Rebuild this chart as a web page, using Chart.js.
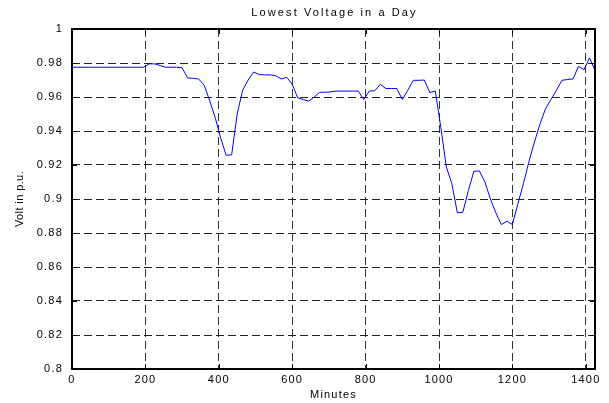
<!DOCTYPE html>
<html>
<head>
<meta charset="utf-8">
<script src="https://cdn.jsdelivr.net/npm/chart.js@4/dist/chart.umd.min.js"></script>
<style>
  body { margin: 0; background: #fff; }
  canvas { display: block; }
</style>
</head>
<body>
<canvas id="voltChart" width="609" height="403"></canvas>
<script>
// minutes of the day, one reading every 15 min
const minutes = [
  0, 15, 30, 45, 60, 75, 90, 105, 120, 135, 150, 165, 180, 195,
  210, 225, 240, 255, 270, 285, 300, 315, 330, 345, 360, 375, 390, 405,
  420, 435, 450, 465, 480, 495, 510, 525, 540, 555, 570, 585, 600, 615,
  630, 645, 660, 675, 690, 705, 720, 735, 750, 765, 780, 795, 810, 825,
  840, 855, 870, 885, 900, 915, 930, 945, 960, 975, 990, 1005, 1020, 1035,
  1050, 1065, 1080, 1095, 1110, 1125, 1140, 1155, 1170, 1185, 1200, 1215,
  1230, 1245, 1260, 1275, 1290, 1305, 1320, 1335, 1350, 1365, 1380, 1395,
  1410, 1425
];

// lowest voltage (p.u.)
const voltage = [
  0.9775, 0.9775, 0.9775, 0.9775, 0.9775, 0.9775, 0.9775, 0.9775, 0.9775, 0.9775, 0.9775, 0.9775, 0.9775, 0.9775,
  0.9795, 0.9795, 0.9785, 0.9775, 0.9775, 0.9775, 0.9772, 0.9712, 0.9710, 0.9706, 0.967, 0.958, 0.948, 0.936,
  0.9257, 0.926, 0.950, 0.964, 0.970, 0.9747, 0.9732, 0.9730, 0.9730, 0.9725, 0.9706, 0.9716, 0.9675, 0.9595,
  0.9585, 0.9576, 0.960, 0.9628, 0.9628, 0.963, 0.9635, 0.9635, 0.9635, 0.9635, 0.9635, 0.9585, 0.9635, 0.9637,
  0.9675, 0.965, 0.965, 0.965, 0.9585, 0.964, 0.9698, 0.9698, 0.970, 0.9626, 0.9635, 0.942, 0.9188, 0.909,
  0.8918, 0.8922, 0.905, 0.9163, 0.9165, 0.910, 0.900, 0.8918, 0.885, 0.8869, 0.885, 0.8973,
  0.909, 0.922, 0.9335, 0.944, 0.953, 0.9585, 0.964, 0.9698, 0.9703, 0.9706, 0.978, 0.9761,
  0.983, 0.9757
];

const xTicks = [0, 200, 400, 600, 800, 1000, 1200, 1400];
const xRange = [0, 1425];
const yRange = [0.8, 1];
const yStep = 0.02;

const chartTitle = "Lowest Voltage in a Day";
const yTitle = "Volt in p.u.";

const fontFamily = "'Liberation Sans', Arial, sans-serif";
const font = { family: fontFamily, size: 11 };
const dash = [8, 4];

// matlab style box, inward ticks, title centred over the plot
const boxPlugin = {
  id: "box",
  beforeDraw(chart) {
    chart.ctx.letterSpacing = "1.2px";
  },
  afterDraw(chart) {
    const { ctx, chartArea: a, scales } = chart;
    ctx.save();
    ctx.strokeStyle = "#000";
    ctx.lineWidth = 1;
    ctx.beginPath();
    scales.x.ticks.forEach((t) => {
      const px = Math.round(scales.x.getPixelForValue(t.value)) + 0.5;
      ctx.moveTo(px, a.bottom); ctx.lineTo(px, a.bottom - 5);
      ctx.moveTo(px, a.top); ctx.lineTo(px, a.top + 5);
    });
    scales.y.ticks.forEach((t) => {
      const py = Math.round(scales.y.getPixelForValue(t.value)) + 0.5;
      ctx.moveTo(a.left, py); ctx.lineTo(a.left + 5, py);
      ctx.moveTo(a.right, py); ctx.lineTo(a.right - 5, py);
    });
    ctx.stroke();
    ctx.lineWidth = 2;
    ctx.strokeRect(a.left, a.top, a.right - a.left, a.bottom - a.top);

    ctx.fillStyle = "#000";
    ctx.font = `11px ${fontFamily}`;
    ctx.textBaseline = "middle";
    ctx.textAlign = "center";
    ctx.letterSpacing = "2.1px";
    ctx.fillText(chartTitle, (a.left + a.right) / 2 + 1, 13);

    ctx.letterSpacing = "0.4px";
    ctx.translate(20, (a.top + a.bottom) / 2);
    ctx.rotate(-Math.PI / 2);
    ctx.fillText(yTitle, 0, 0);
    ctx.restore();
  },
};

new Chart(document.getElementById("voltChart"), {
  type: "line",
  data: {
    datasets: [
      {
        data: minutes.map((m, i) => ({ x: m, y: voltage[i] })),
        borderColor: "#0000ff",
        borderWidth: 1,
        pointRadius: 0,
        tension: 0,
      },
    ],
  },
  options: {
    responsive: false,
    animation: false,
    layout: { padding: { left: 0, right: 14, top: 29, bottom: 0 } },
    plugins: {
      legend: { display: false },
      tooltip: { enabled: false },
      title: { display: false },
    },
    scales: {
      x: {
        type: "linear",
        min: xRange[0],
        max: xRange[1],
        afterBuildTicks: (s) => { s.ticks = xTicks.map((v) => ({ value: v })); },
        afterFit: (s) => { s.height = 34; },
        ticks: {
          color: "#000",
          font: font,
          padding: 4,
          maxRotation: 0,
          autoSkip: false,
          callback: (v) => String(v),
        },
        grid: { color: "#333", drawTicks: false },
        border: { display: false, dash: dash },
        title: {
          display: true,
          text: "Minutes",
          color: "#000",
          font: font,
          padding: { top: 0, bottom: 1 },
        },
      },
      y: {
        min: yRange[0],
        max: yRange[1],
        afterFit: (s) => { s.width = 72; },
        ticks: {
          stepSize: yStep,
          color: "#000",
          font: font,
          padding: 9,
          callback: (v) => String(parseFloat(v.toFixed(2))),
        },
        grid: { color: "#222", drawTicks: false },
        border: { display: false, dash: dash },
      },
    },
  },
  plugins: [boxPlugin],
});
</script>
</body>
</html>
